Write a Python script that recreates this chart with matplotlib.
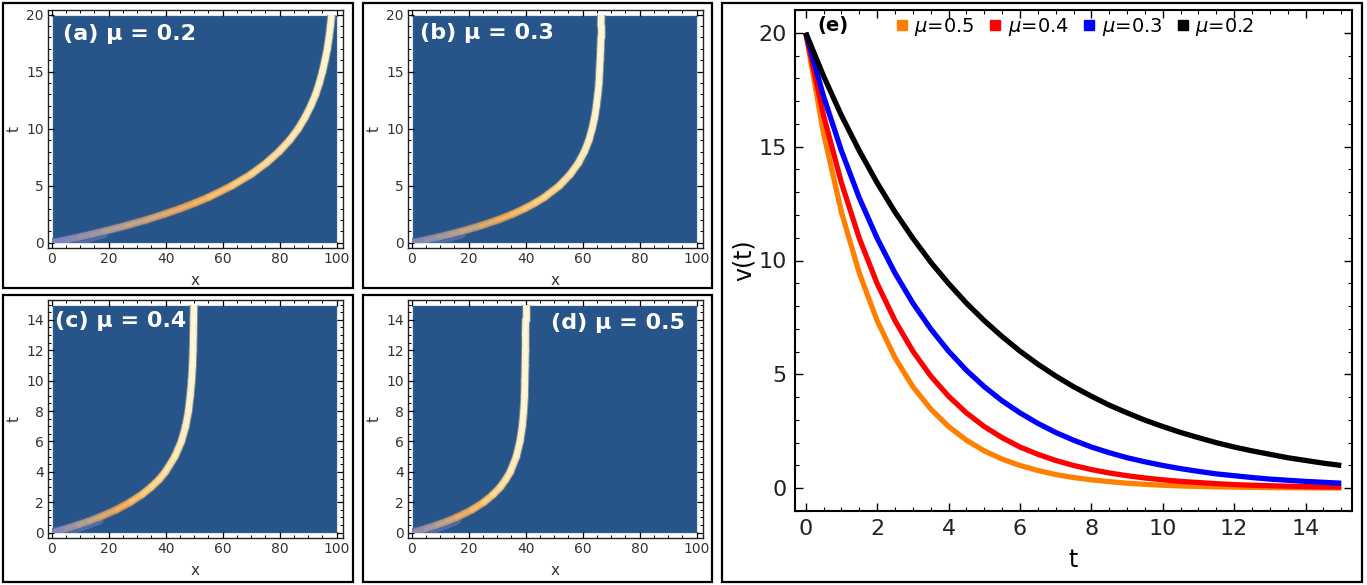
import numpy as np
import matplotlib
matplotlib.use('Agg')
import matplotlib.pyplot as plt
from matplotlib.collections import LineCollection
from matplotlib.colors import LinearSegmentedColormap, to_rgba
from matplotlib.patches import Rectangle
from matplotlib.lines import Line2D
from matplotlib.ticker import MultipleLocator
import matplotlib.transforms as mtransforms

# trajectories x(t) (a)-(d)
t_long = [0, 0.25, 0.5, 0.75, 1, 1.5, 2, 2.5, 3, 3.5, 4, 5, 6, 7, 8, 9, 10,
          11, 12, 13, 14, 15, 16, 17, 18, 19, 20]
x_mu02 = [0, 4.9, 9.5, 13.9, 18.1, 25.9, 33.0, 39.3, 45.1, 50.3, 55.1, 63.2, 69.9,
          75.3, 79.8, 83.5, 86.5, 88.9, 90.9, 92.6, 93.9, 95.0, 95.9, 96.7, 97.3,
          97.8, 98.2]
x_mu03 = [0, 4.8, 9.3, 13.4, 17.3, 24.2, 30.1, 35.2, 39.6, 43.3, 46.6, 51.8, 55.6,
          58.5, 60.6, 62.2, 63.3, 64.2, 64.8, 65.3, 65.7, 65.9, 66.1, 66.3, 66.4,
          66.4, 66.5]
t_short = [0, 0.25, 0.5, 0.75, 1, 1.5, 2, 2.5, 3, 3.5, 4, 5, 6, 7, 8, 9, 10,
           11, 12, 13, 14, 15]
x_mu04 = [0, 4.8, 9.1, 13.0, 16.5, 22.6, 27.5, 31.6, 34.9, 37.7, 39.9, 43.2, 45.5,
          47.0, 48.0, 48.6, 49.1, 49.4, 49.6, 49.7, 49.8, 49.9]
x_mu05 = [0, 4.7, 8.8, 12.5, 15.7, 21.1, 25.3, 28.5, 31.1, 33.0, 34.6, 36.7, 38.0,
          38.8, 39.3, 39.6, 39.7, 39.8, 39.9, 39.9, 40.0, 40.0]

# velocity curves of panel (e)
t_v = [0, 0.5, 1, 1.5, 2, 2.5, 3, 3.5, 4, 4.5, 5, 5.5, 6, 6.5, 7, 7.5, 8, 8.5, 9,
       9.5, 10, 10.5, 11, 11.5, 12, 12.5, 13, 13.5, 14, 14.5, 15]
v_mu02 = [20, 18.10, 16.37, 14.82, 13.41, 12.13, 10.98, 9.93, 8.99, 8.13, 7.36, 6.66,
          6.02, 5.45, 4.93, 4.46, 4.04, 3.65, 3.31, 2.99, 2.71, 2.45, 2.22, 2.00,
          1.81, 1.64, 1.49, 1.34, 1.22, 1.10, 1.00]
v_mu03 = [20, 17.21, 14.82, 12.75, 10.98, 9.45, 8.13, 7.00, 6.02, 5.18, 4.46, 3.84,
          3.31, 2.85, 2.45, 2.11, 1.81, 1.56, 1.34, 1.16, 1.00, 0.86, 0.74, 0.63,
          0.55, 0.47, 0.40, 0.35, 0.30, 0.26, 0.22]
v_mu04 = [20, 16.37, 13.41, 10.98, 8.99, 7.36, 6.02, 4.93, 4.04, 3.31, 2.71, 2.22,
          1.81, 1.49, 1.22, 1.00, 0.82, 0.67, 0.55, 0.45, 0.37, 0.30, 0.25, 0.20,
          0.16, 0.13, 0.11, 0.09, 0.07, 0.06, 0.05]
v_mu05 = [20, 15.58, 12.13, 9.45, 7.36, 5.73, 4.46, 3.48, 2.71, 2.11, 1.64, 1.28,
          1.00, 0.78, 0.60, 0.47, 0.37, 0.29, 0.22, 0.17, 0.13, 0.10, 0.08, 0.06,
          0.05, 0.04, 0.03, 0.02, 0.02, 0.01, 0.01]

W, H = 1367, 585
BG = np.array(to_rgba('#275489'))
band_cmap = LinearSegmentedColormap.from_list(
    'band', [(0.0, '#7580c2'), (0.22, '#a8968f'), (0.5, '#e99f48'),
             (0.7, '#f8c46c'), (0.88, '#ffe0a0'), (1.0, '#fff2c8')])

fig = plt.figure(figsize=(W / 100, H / 100), dpi=100)


def px_box(x0, y0, x1, y1):
    return [x0 / W, 1 - y1 / H, (x1 - x0) / W, (y1 - y0) / H]


# panel frames
for b in [(3, 3, 353, 288), (363, 3, 712, 288), (3, 295, 353, 582),
          (363, 295, 712, 582), (722, 3, 1362, 582)]:
    r = px_box(*b)
    fig.patches.append(Rectangle((r[0], r[1]), r[2], r[3], transform=fig.transFigure,
                                 fill=False, edgecolor='black', lw=1.6))


def density_panel(rect, t, x, tmax, tstep, label, lpos, ha):
    ax = fig.add_axes(px_box(*rect))
    t = np.asarray(t, float)
    x = np.asarray(x, float)
    pad = tmax * 0.02
    ax.set_xlim(-1.3, 102.2)
    ax.set_ylim(-pad - 0.05, tmax + pad)
    bg = Rectangle((0, 0), 100, tmax, facecolor=BG, edgecolor='#dce6f2', lw=0.8)
    ax.add_patch(bg)

    pts = np.column_stack([x, t])
    segs = np.stack([pts[:-1], pts[1:]], axis=1)
    speed = np.gradient(x, t)
    sp = 0.5 * (speed[:-1] + speed[1:])
    frac = np.clip(1 - sp / 20.0, 0, 1)
    cols = band_cmap(frac)

    # faint spread of the packet at early times
    early = t[1:] <= 1.0
    off = mtransforms.offset_copy(ax.transData, fig=fig, x=0, y=-2, units='dots')
    smear = BG * 0.5 + np.array(to_rgba('#7684c8')) * 0.5
    sm = LineCollection(segs[early], colors=[smear], linewidths=7.5,
                        transform=off, capstyle='round')
    ax.add_collection(sm)
    sm.set_clip_path(bg)

    glow = cols * 0.35 + BG * 0.65
    core = cols.copy()
    a = (0.45 * frac)[:, None]
    core[:, :3] = core[:, :3] * (1 - a) + a
    lc1 = LineCollection(segs, colors=glow, linewidths=6.2, capstyle='round')
    lc2 = LineCollection(segs, colors=cols, linewidths=4.8, capstyle='round')
    lc3 = LineCollection(segs, colors=core, linewidths=2.0, capstyle='round')
    for lc in (lc1, lc2, lc3):
        ax.add_collection(lc)
        lc.set_clip_path(bg)

    ax.xaxis.set_major_locator(MultipleLocator(20))
    ax.xaxis.set_minor_locator(MultipleLocator(5))
    ax.yaxis.set_major_locator(MultipleLocator(tstep))
    ax.yaxis.set_minor_locator(MultipleLocator(tstep / 4 if tstep == 2 else 1))
    ax.tick_params(which='both', direction='in', top=True, right=True,
                   labelsize=10, labelcolor='#333333', pad=3)
    ax.tick_params(which='major', length=4, width=0.9)
    ax.tick_params(which='minor', length=2, width=0.7)
    for s in ax.spines.values():
        s.set_linewidth(1.0)
        s.set_color('#222222')
    ax.set_xlabel('x', fontsize=11, color='#333333', labelpad=5)
    ax.set_ylabel('t', fontsize=11, color='#333333', labelpad=3)
    ax.text(lpos[0], lpos[1], label, color='white', fontsize=16, fontweight='bold',
            ha=ha, va='center')
    return ax


density_panel((48, 10, 343, 248), t_long, x_mu02, 20, 5, '(a) μ = 0.2', (4, 18.3), 'left')
density_panel((408, 10, 703, 248), t_long, x_mu03, 20, 5, '(b) μ = 0.3', (3, 18.4), 'left')
density_panel((48, 300, 343, 538), t_short, x_mu04, 15, 2, '(c) μ = 0.4', (1.2, 13.95), 'left')
density_panel((408, 300, 703, 538), t_short, x_mu05, 15, 2, '(d) μ = 0.5', (96, 13.8), 'right')

# panel (e)
ax = fig.add_axes(px_box(795, 10, 1352, 511))
series = [(v_mu05, '#ff8000', r'$\mu$=0.5'), (v_mu04, '#ff0000', r'$\mu$=0.4'),
          (v_mu03, '#0000ff', r'$\mu$=0.3'), (v_mu02, '#000000', r'$\mu$=0.2')]
for v, c, lab in series:
    ax.plot(t_v, v, color=c, lw=3.8, solid_capstyle='butt', solid_joinstyle='round')
ax.set_xlim(-0.3, 15.3)
ax.set_ylim(-1, 21)
ax.xaxis.set_major_locator(MultipleLocator(2))
ax.xaxis.set_minor_locator(MultipleLocator(0.5))
ax.yaxis.set_major_locator(MultipleLocator(5))
ax.yaxis.set_minor_locator(MultipleLocator(1))
ax.tick_params(which='both', direction='in', top=True, right=True, labelsize=16,
               labelcolor='#222222', pad=6)
ax.tick_params(which='major', length=6, width=1.0)
ax.tick_params(which='minor', length=3, width=0.8)
for s in ax.spines.values():
    s.set_linewidth(1.5)
ax.set_xlabel('t', fontsize=17, labelpad=6)
ax.set_ylabel('v(t)', fontsize=17, labelpad=2)
ax.text(0.041, 0.97, '(e)', transform=ax.transAxes, fontsize=14, fontweight='bold',
        va='center', ha='left')
handles = [Line2D([], [], ls='none', marker='s', ms=7.5, color=c, label=lab)
           for v, c, lab in series]
ax.legend(handles=handles, ncol=4, frameon=False, loc='upper left',
          bbox_to_anchor=(0.155, 1.015), fontsize=14, handlelength=0.7,
          handletextpad=0.3, columnspacing=0.7, borderpad=0.2)

fig.savefig('out.png', dpi=100)
